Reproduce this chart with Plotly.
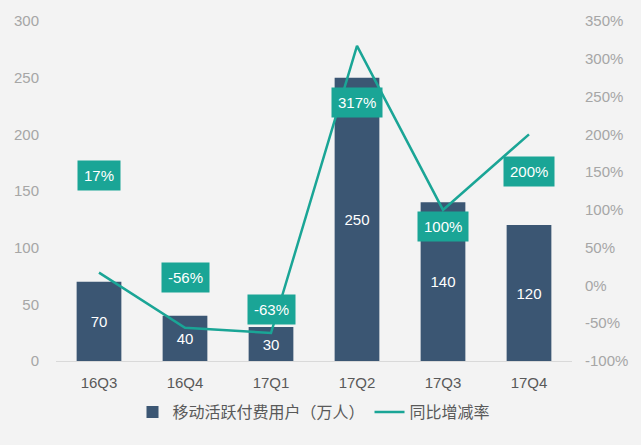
import plotly.graph_objects as go

categories = ["16Q3", "16Q4", "17Q1", "17Q2", "17Q3", "17Q4"]
users = [70, 40, 30, 250, 140, 120]
growth = [17, -56, -63, 317, 100, 200]
growth_labels = ["17%", "-56%", "-63%", "317%", "100%", "200%"]
label_shift = [97, 50, 24, -57, -17, -37]
right_ticks = [-100, -50, 0, 50, 100, 150, 200, 250, 300, 350]
right_tick_text = ["-100%", "-50%", "0%", "50%", "100%", "150%", "200%", "250%", "300%", "350%"]

BAR = "#3b5673"
TEAL = "#1aa596"
FONT = "Liberation Sans, Arial, Noto Sans CJK SC"

fig = go.Figure()
fig.add_trace(go.Bar(
    x=categories, y=users, name="移动活跃付费用户（万人）",
    marker=dict(color=BAR, line=dict(width=0)),
    text=[str(v) for v in users], textposition="inside",
    insidetextanchor="middle",
    textfont=dict(color="white", size=15, family=FONT),
    yaxis="y",
))
fig.add_trace(go.Scatter(
    x=categories, y=growth, name="同比增减率", mode="lines",
    line=dict(color=TEAL, width=2.5), yaxis="y2",
))

for c, g, t, s in zip(categories, growth, growth_labels, label_shift):
    fig.add_annotation(
        x=c, y=g, yref="y2", text=t, showarrow=False, yshift=s,
        bgcolor=TEAL, borderpad=6,
        font=dict(color="white", size=15, family=FONT),
    )

fig.update_layout(
    width=641, height=445,
    margin=dict(l=56, r=69, t=19, b=84),
    paper_bgcolor="#f3f3f3", plot_bgcolor="#f3f3f3",
    bargap=0.48,
    showlegend=True,
    legend=dict(orientation="h", x=0.5, xanchor="center", y=-0.15,
                yanchor="middle", font=dict(size=16, color="#595959", family=FONT),
                bgcolor="rgba(0,0,0,0)", itemwidth=30),
    xaxis=dict(showgrid=False, showline=True, linecolor="#d9d9d9", linewidth=1,
               ticks="", tickfont=dict(size=15, color="#595959", family=FONT),
               ticklabelstandoff=8),
    yaxis=dict(range=[0, 300], dtick=50, showgrid=False, zeroline=False,
               tickfont=dict(size=15, color="#a6a6a6", family=FONT),
               ticklabelstandoff=16),
    yaxis2=dict(range=[-100, 350], tickvals=right_ticks, ticktext=right_tick_text,
                overlaying="y", side="right",
                showgrid=False, zeroline=False,
                tickfont=dict(size=15, color="#a6a6a6", family=FONT),
                ticklabelstandoff=12),
)

fig.write_html("out.html")
